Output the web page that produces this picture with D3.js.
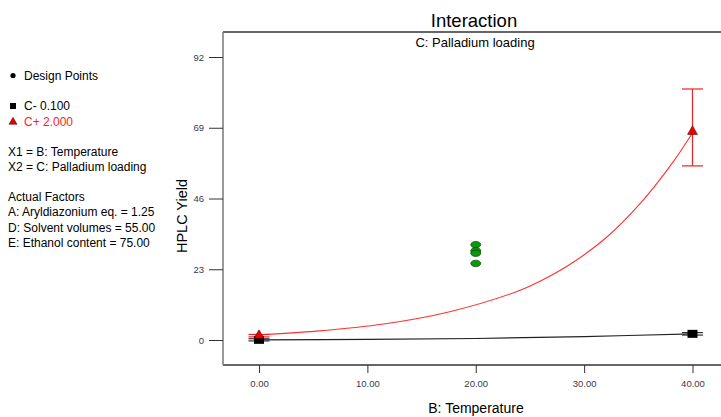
<!DOCTYPE html>
<html>
<head>
<meta charset="utf-8">
<script src="https://cdn.jsdelivr.net/npm/d3@7"></script>
<style>
  body { margin: 0; background: #fff; }
  svg { display: block; font-family: "Liberation Sans", Arial, sans-serif; }
</style>
</head>
<body>
<script>
// values
var yTicks = [0, 23, 46, 69, 92];
var xTicks = [0, 10, 20, 30, 40];

// C+ 2.000 (red) fitted curve
var redX = [0, 5.3, 11.5, 17.6, 23.75, 25.93, 29.0, 32.08, 35.16, 38.23, 40];
var redY = [1.7, 2.9, 5.2, 9.2, 15.7, 19.1, 25.3, 33.4, 44.3, 58.0, 67.4];
// C- 0.100 (black) fitted curve
var blackX = [0, 10, 20, 30, 40];
var blackY = [0.05, 0.2, 0.5, 1.1, 2.0];

// end symbols with LSD bars
var redEnds = [{x: 0, y: 1.3, lo: 1.0, hi: 1.8}, {x: 40, y: 67.6, lo: 56.6, hi: 81.6}];
var blackEnds = [{x: 0, y: 0.05, lo: -0.3, hi: 0.4}, {x: 40, y: 2.0, lo: 1.6, hi: 2.4}];

// design points at B = 20
var designX = [20, 20, 20, 20];
var designY = [31.0, 29.0, 28.2, 24.9];

var legendTop = ["Design Points"];
var legendSeries = ["C- 0.100", "C+ 2.000"];
var legendVars = ["X1 = B: Temperature", "X2 = C: Palladium loading"];
var legendFactors = ["Actual Factors", "A: Aryldiazonium eq. = 1.25",
  "D: Solvent volumes = 55.00", "E: Ethanol content = 75.00"];

var size = {width: 721, height: 417};
var frame = {left: 223, top: 32, bottom: 365, right: 740};

var svg = d3.select("body").append("svg")
  .attr("width", size.width)
  .attr("height", size.height);

var x = d3.scaleLinear().domain([0, 40]).range([259, 692.5]);
var y = d3.scaleLinear().domain([0, 92]).range([340, 57]);

// frame
svg.append("line").attr("x1", frame.left).attr("x2", frame.right)
  .attr("y1", frame.top).attr("y2", frame.top)
  .attr("stroke", "#333").attr("stroke-width", 1.3);
svg.append("line").attr("x1", frame.left).attr("x2", frame.right)
  .attr("y1", frame.bottom).attr("y2", frame.bottom)
  .attr("stroke", "#333").attr("stroke-width", 1.3);
svg.append("line").attr("x1", frame.left).attr("x2", frame.left)
  .attr("y1", frame.top).attr("y2", frame.bottom)
  .attr("stroke", "#777").attr("stroke-width", 1.5);

// axes
var yAxis = svg.append("g")
  .attr("transform", "translate(" + frame.left + ",0)")
  .call(d3.axisLeft(y).tickValues(yTicks).tickSize(14).tickPadding(5));
yAxis.select(".domain").remove();
yAxis.selectAll("line").attr("stroke", "#333");
yAxis.selectAll("text").attr("font-size", "9.5px").attr("fill", "#3a3a4a")
  .attr("font-family", "Liberation Sans, Arial, sans-serif");

var xAxis = svg.append("g")
  .attr("transform", "translate(0," + frame.bottom + ")")
  .call(d3.axisBottom(x).tickValues(xTicks).tickFormat(d3.format(".2f"))
    .tickSize(8).tickPadding(7));
xAxis.select(".domain").remove();
xAxis.selectAll("line").attr("stroke", "#333");
xAxis.selectAll("text").attr("font-size", "9.5px").attr("fill", "#3a3a4a")
  .attr("font-family", "Liberation Sans, Arial, sans-serif");

// titles
svg.append("text").attr("x", 474).attr("y", 27).attr("text-anchor", "middle")
  .attr("font-size", "18.5px").text("Interaction");
svg.append("text").attr("x", 475).attr("y", 47).attr("text-anchor", "middle")
  .attr("font-size", "13px").text("C: Palladium loading");
svg.append("text").attr("x", 476).attr("y", 413).attr("text-anchor", "middle")
  .attr("font-size", "14px").text("B: Temperature");
svg.append("text").attr("transform", "translate(187,216) rotate(-90)")
  .attr("text-anchor", "middle").attr("font-size", "14.5px").text("HPLC Yield");

// curves
var line = d3.line().curve(d3.curveCatmullRom)
  .x(d => x(d[0])).y(d => y(d[1]));

svg.append("path")
  .attr("d", line(blackX.map((v, i) => [v, blackY[i]])))
  .attr("fill", "none").attr("stroke", "#222").attr("stroke-width", 1.1);
svg.append("path")
  .attr("d", line(redX.map((v, i) => [v, redY[i]])))
  .attr("fill", "none").attr("stroke", "#ff3030").attr("stroke-width", 1.1);

// LSD bars
function bars(data, color) {
  var g = svg.append("g").attr("stroke", color).attr("stroke-width", 1.2);
  data.forEach(function(d) {
    g.append("line").attr("x1", x(d.x)).attr("x2", x(d.x))
      .attr("y1", y(d.lo)).attr("y2", y(d.hi));
    [d.lo, d.hi].forEach(function(v) {
      g.append("line").attr("x1", x(d.x) - 10.5).attr("x2", x(d.x) + 10.5)
        .attr("y1", y(v)).attr("y2", y(v));
    });
  });
}
bars(blackEnds, "#333");
bars(redEnds, "#ee2222");

// end symbols
svg.selectAll(".sq").data(blackEnds).join("rect")
  .attr("x", d => x(d.x) - 5).attr("y", d => y(d.y) - 4)
  .attr("width", 10).attr("height", 8).attr("fill", "#000");
var tri = d3.symbol().type(d3.symbolTriangle).size(42);
svg.selectAll(".tri").data(redEnds).join("path")
  .attr("d", tri)
  .attr("transform", d => "translate(" + x(d.x) + "," + (y(d.y) - 0.5) + ")")
  .attr("fill", "#ee0000").attr("stroke", "#500").attr("stroke-width", 0.6);

// design points
svg.selectAll(".dp").data(designY).join("ellipse")
  .attr("cx", (d, i) => x(designX[i])).attr("cy", d => y(d))
  .attr("rx", 5).attr("ry", 3.2)
  .attr("fill", "#0a9a0a").attr("stroke", "#064006").attr("stroke-width", 0.7);

// legend
var lg = svg.append("g").attr("font-size", "12px");
lg.append("circle").attr("cx", 13).attr("cy", 75.5).attr("r", 2.6).attr("fill", "#000");
lg.append("text").attr("x", 24).attr("y", 80).text(legendTop[0]);

lg.append("rect").attr("x", 10).attr("y", 103).attr("width", 6).attr("height", 6).attr("fill", "#000");
lg.append("text").attr("x", 24).attr("y", 110).text(legendSeries[0]);
lg.append("path").attr("d", d3.symbol().type(d3.symbolTriangle).size(28))
  .attr("transform", "translate(13,122)").attr("fill", "#e00000").attr("stroke", "#500").attr("stroke-width", 0.5);
lg.append("text").attr("x", 24).attr("y", 126).attr("fill", "#ff1a1a").text(legendSeries[1]);

legendVars.forEach(function(t, i) {
  lg.append("text").attr("x", 8).attr("y", 156 + i * 15.3).text(t);
});
legendFactors.forEach(function(t, i) {
  lg.append("text").attr("x", 8).attr("y", 201 + i * 15.3).text(t);
});
</script>
</body>
</html>
